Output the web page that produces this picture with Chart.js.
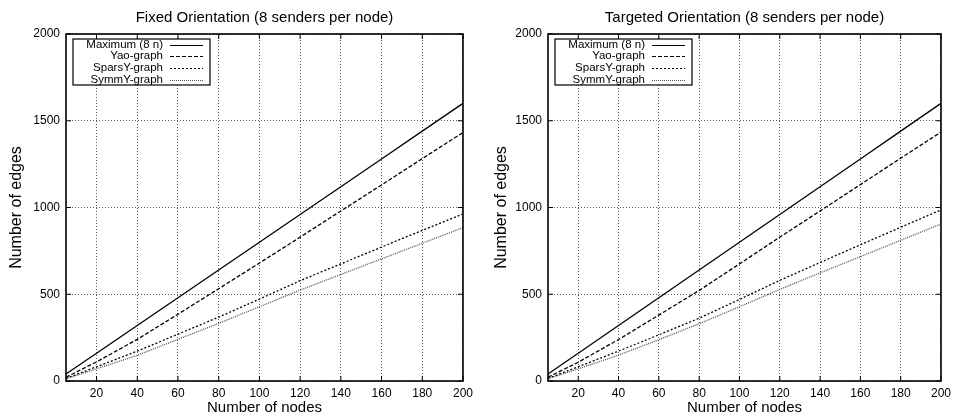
<!DOCTYPE html>
<html>
<head>
<meta charset="utf-8">
<script src="https://cdn.jsdelivr.net/npm/chart.js@4.4.0/dist/chart.umd.min.js"></script>
<style>
  body { margin: 0; background: #fff; }
  #wrap { position: relative; width: 956px; height: 420px; }
  canvas { position: absolute; top: 0; }
  #left { left: 0; }
  #right { left: 478px; }
</style>
</head>
<body>
<div id="wrap">
  <canvas id="left" width="478" height="420"></canvas>
  <canvas id="right" width="478" height="420"></canvas>
</div>
<script>
// x values (number of nodes)
const nodes = [5, 20, 40, 60, 80, 100, 120, 140, 160, 180, 200];
const xTicks = [20, 40, 60, 80, 100, 120, 140, 160, 180, 200];
const yTicks = [0, 500, 1000, 1500, 2000];

const seriesNames = ['Maximum (8 n)', 'Yao-graph', 'SparsY-graph', 'SymmY-graph'];

// Fixed Orientation
const fixedMax   = [40, 160, 320, 480, 640, 800, 960, 1120, 1280, 1440, 1600];
const fixedYao   = [22, 110, 240, 385, 532, 680, 829, 980, 1130, 1282, 1432];
const fixedSpars = [15, 82, 172, 270, 368, 472, 578, 675, 772, 868, 963];
const fixedSymm  = [13, 70, 148, 240, 332, 428, 524, 614, 704, 794, 884];

// Targeted Orientation
const targMax   = [40, 160, 320, 480, 640, 800, 960, 1120, 1280, 1440, 1600];
const targYao   = [22, 108, 239, 380, 522, 675, 829, 980, 1132, 1284, 1435];
const targSpars = [15, 82, 172, 266, 362, 470, 580, 683, 785, 886, 986];
const targSymm  = [13, 70, 149, 238, 330, 428, 528, 623, 717, 811, 905];

const lineStyles = [
  { color: '#000', dash: [] },
  { color: '#000', dash: [4, 2] },
  { color: '#000', dash: [2, 2] },
  { color: '#555', dash: [1, 1] }
];

const FONT = '"Liberation Sans", Arial, Helvetica, sans-serif';

// gnuplot-ish frame, inward ticks and boxed legend
const framePlugin = {
  id: 'frame',
  afterDatasetsDraw(chart) {
    const { ctx, chartArea: a, scales: { x, y } } = chart;
    ctx.save();
    ctx.setLineDash([]);
    ctx.strokeStyle = '#000';
    ctx.lineWidth = 1;
    ctx.beginPath();
    x.ticks.forEach(t => {
      const px = x.getPixelForValue(t.value);
      ctx.moveTo(px, a.bottom); ctx.lineTo(px, a.bottom - 5);
      ctx.moveTo(px, a.top); ctx.lineTo(px, a.top + 5);
    });
    y.ticks.forEach(t => {
      const py = y.getPixelForValue(t.value);
      ctx.moveTo(a.left, py); ctx.lineTo(a.left + 5, py);
      ctx.moveTo(a.right, py); ctx.lineTo(a.right - 5, py);
    });
    ctx.stroke();
    ctx.lineWidth = 1.6;
    ctx.strokeRect(a.left, a.top, a.right - a.left, a.bottom - a.top);

    // legend
    const bx = a.left + 7, by = a.top + 5, bw = 137, bh = 46;
    ctx.fillStyle = '#fff';
    ctx.fillRect(bx, by, bw, bh);
    ctx.lineWidth = 1.2;
    ctx.strokeRect(bx, by, bw, bh);
    ctx.font = '11.5px ' + FONT;
    ctx.textAlign = 'right';
    ctx.textBaseline = 'middle';
    chart.data.datasets.forEach((ds, i) => {
      const ry = a.top + 10.5 + i * 11.7;
      ctx.fillStyle = '#000';
      ctx.fillText(ds.label, a.left + 97, ry);
      ctx.beginPath();
      ctx.lineWidth = 1.2;
      ctx.strokeStyle = ds.borderColor;
      ctx.setLineDash(ds.borderDash);
      ctx.moveTo(a.left + 104, Math.round(ry) + 0.5);
      ctx.lineTo(a.left + 137, Math.round(ry) + 0.5);
      ctx.stroke();
    });
    ctx.restore();
  }
};

function makeChart(id, title, series, yWidth, rightPad, yTitlePad) {
  const datasets = series.map((vals, i) => ({
    label: seriesNames[i],
    data: nodes.map((n, j) => ({ x: n, y: vals[j] })),
    borderColor: lineStyles[i].color,
    borderDash: lineStyles[i].dash,
    borderWidth: 1.3,
    pointRadius: 0,
    fill: false,
    tension: 0
  }));

  return new Chart(document.getElementById(id), {
    type: 'line',
    data: { datasets: datasets },
    options: {
      responsive: false,
      animation: false,
      layout: { padding: { right: rightPad } },
      plugins: {
        legend: { display: false },
        tooltip: { enabled: false },
        title: {
          display: true,
          text: title,
          fullSize: false,
          color: '#000',
          font: { family: FONT, size: 15, weight: 'normal' },
          padding: { top: 8.8, bottom: 7.2 }
        }
      },
      scales: {
        x: {
          type: 'linear',
          min: 5,
          max: 200,
          afterBuildTicks: s => { s.ticks = xTicks.map(v => ({ value: v })); },
          afterFit: s => { s.height = 39; },
          grid: { color: 'rgba(0,0,0,0.65)', lineWidth: 1, drawTicks: false },
          border: { display: false, dash: [1, 2] },
          ticks: { color: '#000', padding: 5, maxRotation: 0, font: { family: FONT, size: 12 }, callback: v => String(v) },
          title: {
            display: true, text: 'Number of nodes', color: '#000',
            font: { family: FONT, size: 15 }, padding: { top: 0, bottom: 3 }
          }
        },
        y: {
          type: 'linear',
          min: 0,
          max: 2000,
          afterBuildTicks: s => { s.ticks = yTicks.map(v => ({ value: v })); },
          afterFit: s => { s.width = yWidth; },
          grid: { color: 'rgba(0,0,0,0.65)', lineWidth: 1, drawTicks: false },
          border: { display: false, dash: [1, 2] },
          ticks: { color: '#000', padding: 6, font: { family: FONT, size: 12 }, callback: v => String(v) },
          title: {
            display: true, text: 'Number of edges', color: '#000',
            font: { family: FONT, size: 16 }, padding: { top: yTitlePad, bottom: 0 }
          }
        }
      }
    },
    plugins: [framePlugin]
  });
}

makeChart('left', 'Fixed Orientation (8 senders per node)',
  [fixedMax, fixedYao, fixedSpars, fixedSymm], 66, 15, 7.4);
makeChart('right', 'Targeted Orientation (8 senders per node)',
  [targMax, targYao, targSpars, targSymm], 70, 11, 13.7);
</script>
</body>
</html>
